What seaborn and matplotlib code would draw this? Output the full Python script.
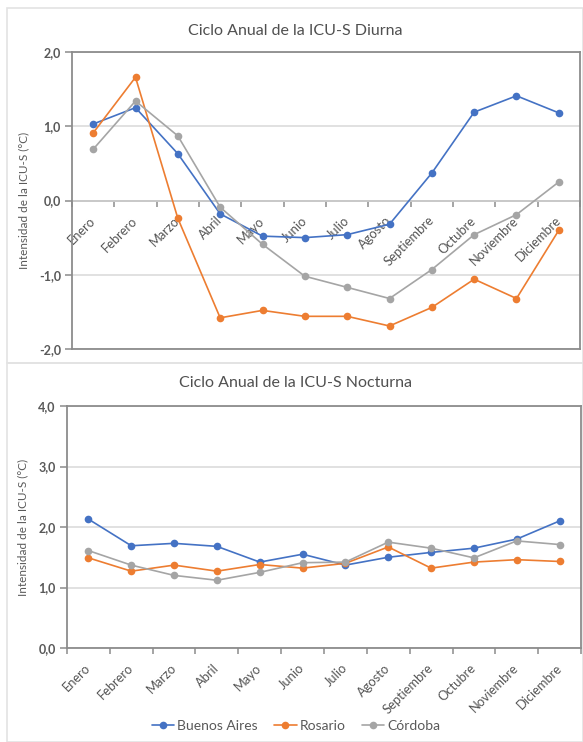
import matplotlib
matplotlib.use("Agg")
import matplotlib.pyplot as plt
from matplotlib.patches import Rectangle
from matplotlib.ticker import FixedLocator
from matplotlib.transforms import ScaledTranslation
import seaborn as sns
import pandas as pd
import numpy as np

# Months (categories) and monthly surface urban heat island intensity (°C)
meses = ["Enero", "Febrero", "Marzo", "Abril", "Mayo", "Junio", "Julio",
         "Agosto", "Septiembre", "Octubre", "Noviembre", "Diciembre"]
ciudades = ["Buenos Aires", "Rosario", "Córdoba"]

diurna_buenos_aires = [1.03, 1.25, 0.63, -0.18, -0.48, -0.50, -0.46, -0.32, 0.37, 1.19, 1.41, 1.18]
diurna_rosario = [0.91, 1.66, -0.24, -1.58, -1.48, -1.56, -1.56, -1.69, -1.44, -1.06, -1.32, -0.40]
diurna_cordoba = [0.69, 1.34, 0.87, -0.09, -0.59, -1.02, -1.17, -1.32, -0.93, -0.46, -0.19, 0.25]

nocturna_buenos_aires = [2.13, 1.69, 1.73, 1.68, 1.42, 1.55, 1.37, 1.50, 1.58, 1.65, 1.80, 2.10]
nocturna_rosario = [1.49, 1.27, 1.37, 1.27, 1.38, 1.32, 1.40, 1.67, 1.32, 1.42, 1.46, 1.43]
nocturna_cordoba = [1.61, 1.37, 1.20, 1.12, 1.25, 1.41, 1.42, 1.75, 1.65, 1.49, 1.77, 1.71]

colores = ["#4472C4", "#ED7D31", "#A5A5A5"]
TXT = "#595959"
SPINE = "#8C8C8C"
GRID = "#D9D9D9"

sns.set_theme(style="white")
plt.rcParams["font.family"] = ["Lato", "DejaVu Sans"]


def long_frame(series):
    rows = []
    for ciudad, valores in zip(ciudades, series):
        for i, (mes, v) in enumerate(zip(meses, valores)):
            rows.append({"pos": i, "mes": mes, "ciudad": ciudad, "valor": v})
    return pd.DataFrame(rows)


df_dia = long_frame([diurna_buenos_aires, diurna_rosario, diurna_cordoba])
df_noche = long_frame([nocturna_buenos_aires, nocturna_rosario, nocturna_cordoba])

W, H = 583, 742
fig = plt.figure(figsize=(W / 100, H / 100), dpi=100)

# panel frames
fig.add_artist(Rectangle((7 / W, 1 - 363 / H), (W - 7) / W, (363 - 8) / H,
                         transform=fig.transFigure, fill=False, ec="#E3E3E3", lw=1.2))
fig.add_artist(Rectangle((7 / W, 0), (W - 7) / W, (742 - 363) / H,
                         transform=fig.transFigure, fill=False, ec="#E3E3E3", lw=1.2))

ax1 = fig.add_axes([72 / W, 1 - 349 / H, (580 - 72) / W, (349 - 52) / H])
ax2 = fig.add_axes([67 / W, 1 - 648 / H, (581 - 67) / W, (648 - 406) / H])

fmt = lambda v, p: f"{v:.1f}".replace(".", ",")

for ax, df in ((ax1, df_dia), (ax2, df_noche)):
    sns.lineplot(data=df, x="pos", y="valor", hue="ciudad", hue_order=ciudades,
                 palette=colores, marker="o", markersize=5.5, markeredgewidth=0,
                 linewidth=1.2, ax=ax, legend=(ax is ax2), sort=False)
    ax.set_xlim(-0.5, len(meses) - 0.5)
    ax.set_xlabel("")
    ax.set_ylabel("Intensidad de la ICU-S (°C)", color=TXT, fontsize=8.5, labelpad=7)
    for s in ax.spines.values():
        s.set_color(SPINE)
        s.set_linewidth(1.3)
        s.set_visible(True)
    ax.yaxis.grid(True, color=GRID, lw=1.1)
    ax.set_axisbelow(True)
    ax.yaxis.set_major_formatter(fmt)
    ax.tick_params(axis="y", which="major", length=5, width=1.1, color=SPINE,
                   labelcolor=TXT, labelsize=9, pad=3, left=True)

ax1.set_ylim(-2, 2)
ax1.set_yticks([-2, -1, 0, 1, 2])
ax2.set_ylim(0, 4)
ax2.set_yticks([0, 1, 2, 3, 4])
for ax in (ax1, ax2):
    for t in ax.get_yticklabels():
        t.set_fontweight("bold")

# daytime panel: category axis crosses the value axis at 0
ax1.tick_params(axis="x", bottom=False, labelbottom=False)
sec = ax1.secondary_xaxis(0.5)
sec.set_alignment("bottom")

shift = ScaledTranslation(0.045, 0, fig.dpi_scale_trans)
for a in (sec, ax2):
    a.set_xticks(range(len(meses)))
    a.set_xticklabels(meses, rotation=45, ha="right", va="center",
                      rotation_mode="anchor", color="#555555", fontsize=9.3)
    for t in a.get_xticklabels():
        t.set_transform(t.get_transform() + shift)
    a.xaxis.set_minor_locator(FixedLocator(np.arange(-0.5, len(meses), 1.0)))
    a.tick_params(axis="x", which="major", length=0, pad=13)
    a.tick_params(axis="x", which="minor", length=4, width=1.1, color=SPINE, bottom=True)
    a.spines["bottom"].set_color(SPINE)
    a.spines["bottom"].set_linewidth(1.3)

ax1.set_title("Ciclo Anual de la ICU-S Diurna", color="#505050", fontsize=11.5, pad=12)
ax2.set_title("Ciclo Anual de la ICU-S Nocturna", color="#505050", fontsize=11.5, pad=14)
ax1.title.set_position((0.44, 1))
ax2.title.set_position((0.445, 1))

handles, labels = ax2.get_legend_handles_labels()
ax2.get_legend().remove()
fig.legend(handles, labels, loc="center", bbox_to_anchor=(296 / W, 1 - 726 / H),
           ncol=3, frameon=False, fontsize=10, labelcolor=TXT, handlelength=1.6,
           handletextpad=0.2, columnspacing=1.2)

fig.savefig("out.png", dpi=100)
